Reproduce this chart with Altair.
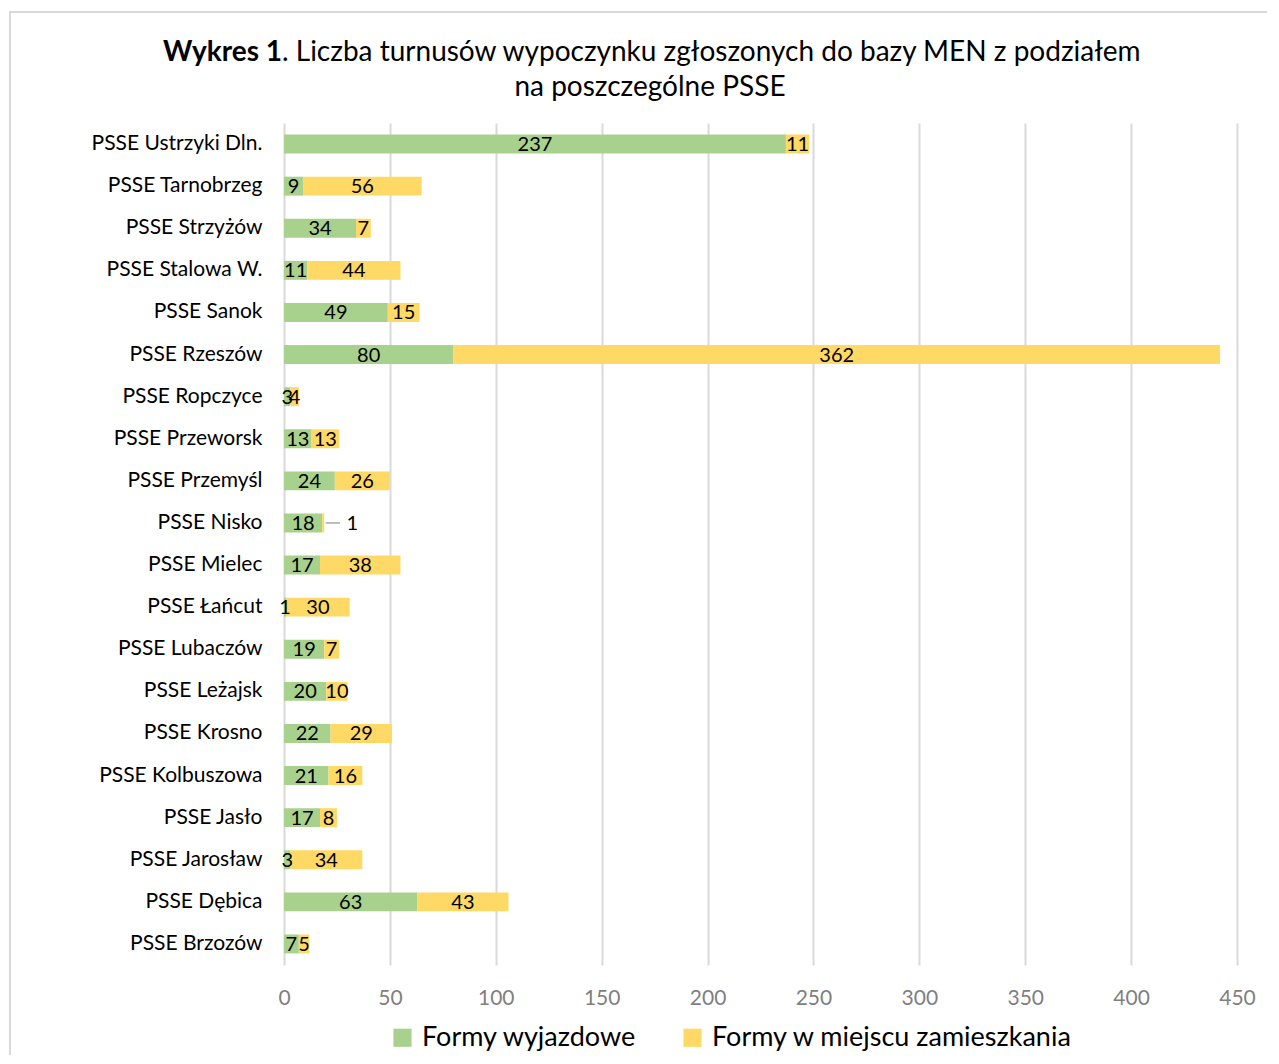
import altair as alt
import pandas as pd

categories = ["PSSE Ustrzyki Dln.", "PSSE Tarnobrzeg", "PSSE Strzyżów", "PSSE Stalowa W.",
              "PSSE Sanok", "PSSE Rzeszów", "PSSE Ropczyce", "PSSE Przeworsk",
              "PSSE Przemyśl", "PSSE Nisko", "PSSE Mielec", "PSSE Łańcut",
              "PSSE Lubaczów", "PSSE Leżajsk", "PSSE Krosno", "PSSE Kolbuszowa",
              "PSSE Jasło", "PSSE Jarosław", "PSSE Dębica", "PSSE Brzozów"]
wyjazdowe = [237, 9, 34, 11, 49, 80, 3, 13, 24, 18, 17, 1, 19, 20, 22, 21, 17, 3, 63, 7]
miejsce = [11, 56, 7, 44, 15, 362, 4, 13, 26, 1, 38, 30, 7, 10, 29, 16, 8, 34, 43, 5]
series = ["Formy wyjazdowe", "Formy w miejscu zamieszkania"]
colors = ["#A9D18E", "#FFD966"]
x_ticks = [0, 50, 100, 150, 200, 250, 300, 350, 400, 450]

rows = []
for i, c in enumerate(categories):
    a, b = wyjazdowe[i], miejsce[i]
    rows.append({"cat": c, "series": series[0], "v": a, "x0": 0, "x1": a, "ord": 0})
    rows.append({"cat": c, "series": series[1], "v": b, "x0": a, "x1": a + b, "ord": 1})
df = pd.DataFrame(rows)
df["mid"] = (df["x0"] + df["x1"]) / 2

FONT = "Lato"
W, H = 953, 842

y_enc = alt.Y("cat:N", sort=categories, title=None,
              scale=alt.Scale(paddingInner=0.55, paddingOuter=0.275),
              axis=alt.Axis(ticks=False, domain=False, labelPadding=22, labelFontSize=21,
                            labelColor="#000000", labelFont=FONT, grid=False, labelLimit=0))

bars = alt.Chart(df).mark_bar().encode(
    x=alt.X("x0:Q", title=None,
            scale=alt.Scale(domain=[0, 450], nice=False),
            axis=alt.Axis(values=x_ticks, ticks=False, domain=False, labelFontSize=21,
                          labelColor="#7F7F7F", labelFont=FONT, labelPadding=22,
                          labelFlush=False,
                          grid=True, gridColor="#D9D9D9", gridWidth=2)),
    x2="x1:Q",
    y=y_enc,
    color=alt.Color("series:N", sort=series,
                    scale=alt.Scale(domain=series, range=colors),
                    legend=alt.Legend(title=None, orient="none", direction="horizontal",
                                      legendX=105, legendY=901, symbolType="square",
                                      symbolSize=330, symbolStrokeWidth=0,
                                      labelFontSize=27, labelFont=FONT, labelColor="#000000",
                                      labelOffset=6, columnPadding=42, symbolOpacity=1,
                                      labelLimit=0)),
)

labels = alt.Chart(df).transform_filter(
    (alt.datum.cat != "PSSE Nisko") | (alt.datum.ord == 0)
).mark_text(font=FONT, fontSize=20, color="#000000", baseline="middle", dy=1).encode(
    x="mid:Q", y=alt.Y("cat:N", sort=categories), text="v:Q")

nisko = df[(df["cat"] == "PSSE Nisko") & (df["ord"] == 1)]
nisko_label = alt.Chart(nisko).mark_text(font=FONT, fontSize=20, color="#000000",
                                        baseline="middle", dx=28, dy=1).encode(
    x="x1:Q", y=alt.Y("cat:N", sort=categories), text="v:Q")
nisko_line = alt.Chart(nisko).transform_calculate(
    a="datum.x1 + 0.7", b="datum.x1 + 7.5"
).mark_rule(color="#A6A6A6", strokeWidth=1.5).encode(
    x="a:Q", x2="b:Q", y=alt.Y("cat:N", sort=categories))

title1b = alt.Chart(pd.DataFrame({"t": ["Wykres 1"]})).mark_text(
    font=FONT, fontSize=28, fontWeight="bold", align="right", baseline="middle", color="#000000"
).encode(x=alt.value(-2), y=alt.value(-70), text="t:N")
title1n = alt.Chart(pd.DataFrame({"t": [". Liczba turnusów wypoczynku zgłoszonych do bazy MEN z podziałem"]})).mark_text(
    font=FONT, fontSize=28, align="left", baseline="middle", color="#000000"
).encode(x=alt.value(-2), y=alt.value(-70), text="t:N")
title2 = alt.Chart(pd.DataFrame({"t": ["na poszczególne PSSE"]})).mark_text(
    font=FONT, fontSize=28, align="center", baseline="middle", color="#000000"
).encode(x=alt.value(366), y=alt.value(-35), text="t:N")

border = alt.Chart(pd.DataFrame({"d": [0]})).mark_rect(
    fill=None, stroke="#D9D9D9", strokeWidth=2
).encode(x=alt.value(-274), x2=alt.value(1010), y=alt.value(-111), y2=alt.value(960))

chart = alt.layer(border, bars, labels, nisko_line, nisko_label, title1b, title1n, title2).properties(
    width=W, height=H,
    autosize=alt.AutoSizeParams(type="none"),
    padding={"left": 276, "top": 115, "right": 30, "bottom": 90},
    background="white",
).configure_view(stroke=None)

chart.save("out.html", embed_options={"renderer": "svg", "actions": False})
